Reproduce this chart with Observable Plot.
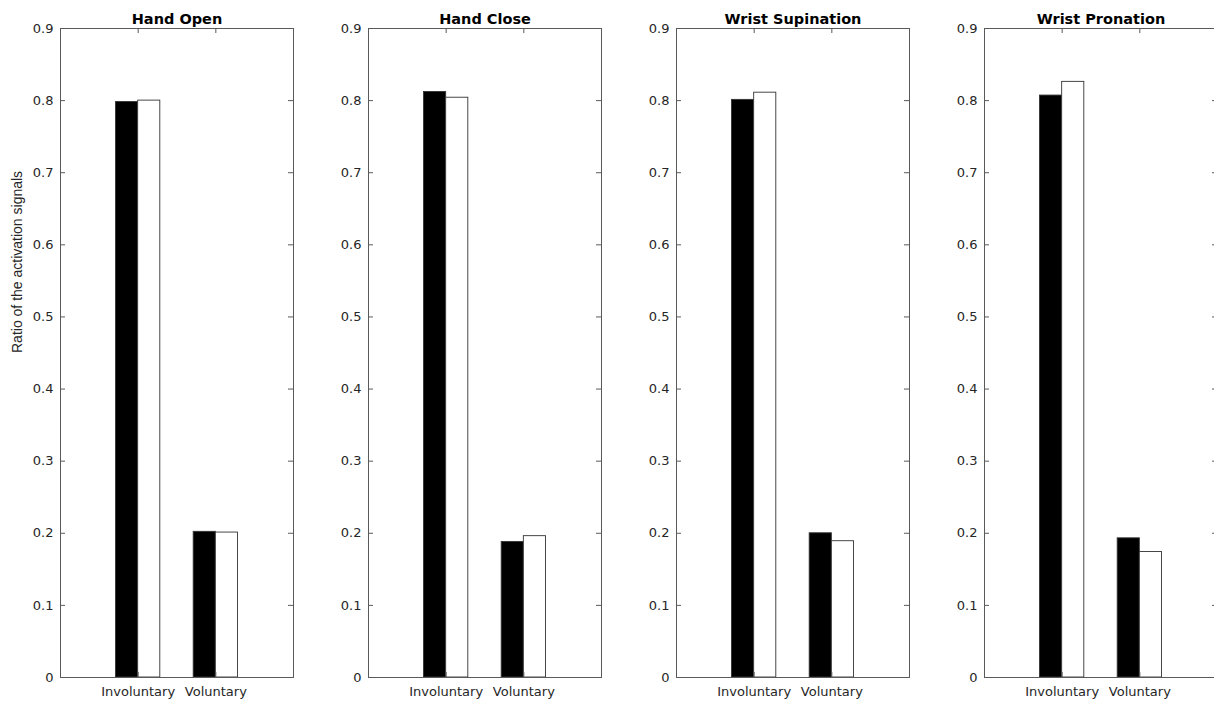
<!DOCTYPE html>
<html>
<head>
<meta charset="utf-8">
<script src="https://cdn.jsdelivr.net/npm/d3@7"></script>
<script src="https://cdn.jsdelivr.net/npm/@observablehq/plot@0.6"></script>
<style>
  html, body { margin: 0; padding: 0; background: #fff; overflow: hidden; }
  #wrap { position: relative; width: 1214px; height: 702px; overflow: hidden; background: #fff; }
  .panel { position: absolute; top: 0; }
  .panel svg { max-width: none !important; }
</style>
</head>
<body>
<div id="wrap"></div>
<script>
// ---- data ----
const panelTitles = ["Hand Open", "Hand Close", "Wrist Supination", "Wrist Pronation"];
const categories = ["Involuntary", "Voluntary"];
// black bars: [Involuntary, Voluntary] per panel
const blackValues = [
  [0.798, 0.202],
  [0.812, 0.188],
  [0.801, 0.200],
  [0.807, 0.193]
];
// white bars: [Involuntary, Voluntary] per panel
const whiteValues = [
  [0.800, 0.201],
  [0.804, 0.196],
  [0.811, 0.189],
  [0.826, 0.174]
];
const yTicks = [0, 0.1, 0.2, 0.3, 0.4, 0.5, 0.6, 0.7, 0.8, 0.9];
const yTickLabels = ["0", "0.1", "0.2", "0.3", "0.4", "0.5", "0.6", "0.7", "0.8", "0.9"];
const yLabel = "Ratio of the activation signals";

// ---- layout ----
const plotW = 233, ML = 60, MR = 10, MT = 28, MB = 25, H = 702;
const panelStep = 308;
const barW = 0.285;
const axisColor = "#5a5a5a";
const textColor = "#262626";
const tick = 5;
const plotH = H - MT - MB;

const wrap = document.getElementById("wrap");

panelTitles.forEach((title, p) => {
  const rows = [];
  categories.forEach((c, i) => {
    rows.push({cat: i + 1, side: -1, value: blackValues[p][i], fill: "black"});
    rows.push({cat: i + 1, side: 0, value: whiteValues[p][i], fill: "white"});
  });
  const xTicks = categories.map((c, i) => i + 1);

  const marks = [
    Plot.rect(rows, {
      x1: d => d.cat + d.side * barW,
      x2: d => d.cat + (d.side + 1) * barW,
      y1: 0,
      y2: d => d.value,
      fill: d => d.fill,
      stroke: "#333",
      strokeWidth: 0.9
    }),
    Plot.frame({stroke: axisColor, strokeWidth: 1}),
    Plot.tickY(yTicks, {y: d => d, stroke: axisColor, insetRight: plotW - tick}),
    Plot.tickY(yTicks, {y: d => d, stroke: axisColor, insetLeft: plotW - tick}),
    Plot.tickX(xTicks, {x: d => d, stroke: axisColor, insetTop: plotH - tick}),
    Plot.tickX(xTicks, {x: d => d, stroke: axisColor, insetBottom: plotH - tick}),
    Plot.axisY(yTicks, {anchor: "left", tickSize: 0, tickPadding: 7, fontSize: 13, fill: textColor, label: null,
      tickFormat: d => yTickLabels[yTicks.indexOf(d)]}),
    Plot.axisX(xTicks, {anchor: "bottom", tickSize: 0, tickPadding: 9, fontSize: 13, fill: textColor,
      tickFormat: d => categories[d - 1], label: null}),
    Plot.text([title], {frameAnchor: "top", dy: -5, lineAnchor: "bottom", fontWeight: "bold",
      fontSize: 14.5, fill: "black"})
  ];
  if (p === 0) {
    marks.push(Plot.text([yLabel], {frameAnchor: "left", rotate: -90, dx: -43,
      fontSize: 14, fontFamily: "Liberation Sans", fill: textColor}));
  }

  const chart = Plot.plot({
    width: ML + plotW + MR,
    height: H,
    marginLeft: ML,
    marginRight: MR,
    marginTop: MT,
    marginBottom: MB,
    style: {fontFamily: "DejaVu Sans", fontSize: "13px", color: textColor, background: "transparent", overflow: "visible", maxWidth: "none"},
    x: {type: "linear", domain: [0, 3], axis: null},
    y: {domain: [0, 0.9], axis: null},
    marks
  });
  const div = document.createElement("div");
  div.className = "panel";
  div.style.left = (p * panelStep) + "px";
  div.style.width = (ML + plotW + MR) + "px";
  div.appendChild(chart);
  wrap.appendChild(div);
});
</script>
</body>
</html>
